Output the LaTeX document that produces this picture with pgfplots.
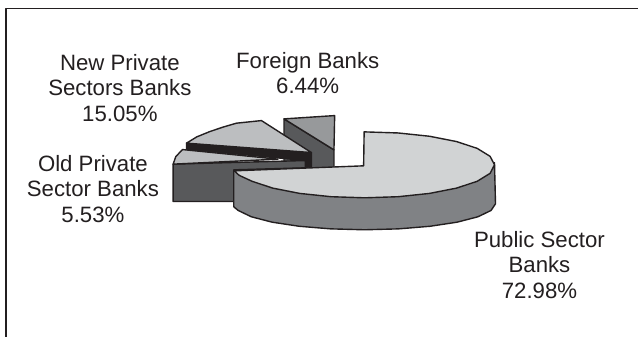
\documentclass[border=0pt]{standalone}
\usepackage{pgfplots}
\usepackage{fontspec}
\setmainfont{Liberation Sans}
\pgfplotsset{compat=1.18}
\definecolor{ink}{HTML}{231F20}
\definecolor{lightface}{HTML}{D1D3D4}
\definecolor{midface}{HTML}{BCBEC0}
\definecolor{foreigntop}{HTML}{97999B}
\definecolor{rim}{HTML}{808285}
\definecolor{wall}{HTML}{58595B}
\begin{document}
\begin{tikzpicture}
\begin{axis}[
  scale only axis, width=639bp, height=337bp,
  xmin=0, xmax=639, ymin=0, ymax=337, y dir=reverse,
  hide axis, clip=false,
  every axis plot/.style={draw=ink, line width=1.4pt, line join=round},
]
\path[fill=white] (axis cs:0,0) rectangle (axis cs:639,337);
% outer frame
\addplot[draw=ink, line width=1.3pt] coordinates {(6,337) (6,8.5) (639,8.5)};
% foreign banks
\addplot[fill=wall] coordinates {(284.3,119) (334.3,150) (334.3,168) (284.3,168)} -- cycle;
\addplot[fill=foreigntop] coordinates {(284.3,119) (335,115.7) (334.3,150)} -- cycle;
% new private sector banks
\addplot[fill=ink] coordinates {(186.7,143.3) (311.7,152.7) (311.7,168) (305.7,168) (305.7,160.7) (186.7,149.3)} -- cycle;
\addplot[fill=midface] coordinates {(186.7,143.3) (197,137) (210,131.7) (224,127) (236.7,123.3) (261.7,120.7) (311.7,152.7)} -- cycle;
% old private sector banks
\addplot[fill=wall] coordinates {(173.3,164.3) (305.7,160.7) (305.7,168) (234,170) (234,201.7) (173.3,201.7)} -- cycle;
\addplot[fill=midface] coordinates {(182.7,149.7) (278.3,159.3) (173.3,164.3) (176,156.7)} -- cycle;
% public sector banks
\addplot[fill=rim] coordinates {(495,163) (496,204) (491.5,210.7) (478.4,217) (457.6,222.4) (430.5,226.5) (399,229.1) (365,230) (331,229.1) (299.5,226.5) (272.4,222.4) (251.6,217) (238.5,210.7) (234,207) (234,171)} -- cycle;
\addplot[fill=lightface] coordinates {(364,166) (364.5,132) (398.6,133.1) (430,136.4) (457,141.7) (477.6,148.5) (490.6,156.5) (495,165) (490.6,173.5) (477.6,181.5) (457,188.3) (430,193.6) (398.6,196.9) (365,198) (331.4,196.9) (300,193.6) (273,188.3) (252.4,181.5) (239.4,175.5) (234.5,171)} -- cycle;
% slice labels
\tikzset{lab/.style={anchor=center, align=center, font=\fontsize{22.3}{25.7}\selectfont, text=ink, inner sep=0pt}}
\node[lab] at (axis cs:120,88) {New Private\\Sectors Banks\\15.05\%};
\node[lab] at (axis cs:308,73) {Foreign Banks\\6.44\%};
\node[lab] at (axis cs:93,189) {Old Private\\Sector Banks\\5.53\%};
\node[lab] at (axis cs:540,265) {Public Sector\\Banks\\72.98\%};
\end{axis}
\end{tikzpicture}
\end{document}
